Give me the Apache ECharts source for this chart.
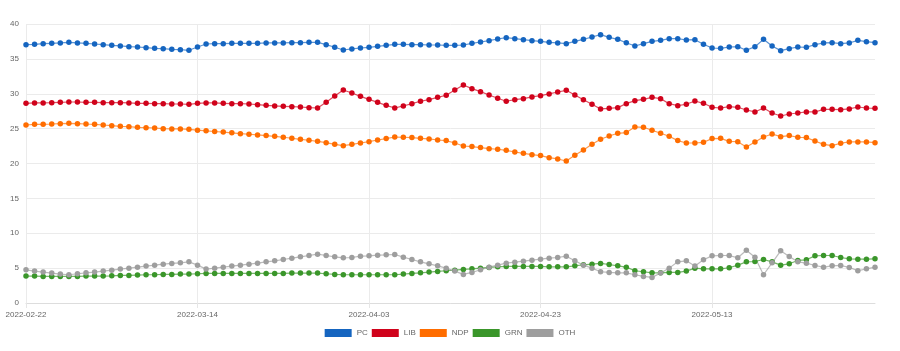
<!DOCTYPE html>
<html>
<head>
<meta charset="utf-8">
<script src="https://cdn.jsdelivr.net/npm/echarts@6/dist/echarts.min.js"></script>
<style>
  html, body { margin: 0; padding: 0; background: #fff; }
  #chart { width: 900px; height: 351px; }
</style>
</head>
<body>
<div id="chart"></div>
<script>
// daily polling averages, 2022-02-22 .. 2022-06-01
const startDate = '2022-02-22'
const dayCount = 100

const pc = [37.04, 37.09, 37.18, 37.23, 37.28, 37.37, 37.28, 37.23, 37.13, 37.04,
  36.94, 36.85, 36.75, 36.70, 36.61, 36.51, 36.46, 36.37, 36.32, 36.23,
  36.70, 37.13, 37.18, 37.18, 37.23, 37.23, 37.23, 37.23, 37.28, 37.28,
  37.28, 37.32, 37.32, 37.37, 37.37, 37.04, 36.66, 36.27, 36.42, 36.56,
  36.66, 36.80, 36.94, 37.09, 37.09, 37.04, 37.04, 36.99, 36.99, 36.94,
  36.94, 36.99, 37.23, 37.42, 37.61, 37.85, 38.04, 37.90, 37.75, 37.61,
  37.52, 37.37, 37.28, 37.18, 37.52, 37.80, 38.14, 38.47, 38.09, 37.80,
  37.32, 36.85, 37.18, 37.52, 37.66, 37.90, 37.90, 37.71, 37.75, 37.09,
  36.56, 36.51, 36.70, 36.75, 36.23, 36.75, 37.80, 36.85, 36.18, 36.46,
  36.70, 36.66, 37.04, 37.28, 37.32, 37.18, 37.28, 37.66, 37.47, 37.32]

const lib = [28.63, 28.68, 28.68, 28.72, 28.77, 28.82, 28.82, 28.77, 28.77, 28.72,
  28.72, 28.72, 28.68, 28.63, 28.63, 28.58, 28.58, 28.53, 28.53, 28.49,
  28.63, 28.68, 28.68, 28.63, 28.58, 28.58, 28.53, 28.44, 28.34, 28.25,
  28.20, 28.15, 28.10, 28.01, 27.96, 28.77, 29.68, 30.54, 30.11, 29.63,
  29.20, 28.77, 28.34, 27.96, 28.25, 28.58, 28.92, 29.15, 29.49, 29.78,
  30.54, 31.26, 30.73, 30.30, 29.82, 29.35, 28.92, 29.15, 29.30, 29.54,
  29.73, 29.97, 30.25, 30.49, 29.82, 29.15, 28.49, 27.82, 27.91, 28.01,
  28.58, 29.01, 29.20, 29.49, 29.30, 28.58, 28.29, 28.49, 28.96, 28.63,
  28.06, 27.96, 28.15, 28.06, 27.67, 27.39, 27.96, 27.24, 26.81, 27.10,
  27.24, 27.39, 27.39, 27.77, 27.77, 27.72, 27.82, 28.10, 27.96, 27.91]

const ndp = [25.52, 25.62, 25.62, 25.66, 25.71, 25.76, 25.71, 25.66, 25.62, 25.52,
  25.43, 25.33, 25.28, 25.19, 25.14, 25.09, 25.00, 24.95, 24.95, 24.90,
  24.78, 24.69, 24.59, 24.50, 24.40, 24.28, 24.19, 24.10, 24.00, 23.90,
  23.76, 23.62, 23.47, 23.33, 23.18, 22.99, 22.75, 22.56, 22.75, 22.94,
  23.13, 23.37, 23.57, 23.80, 23.76, 23.71, 23.61, 23.52, 23.37, 23.28,
  22.94, 22.51, 22.42, 22.28, 22.13, 22.04, 21.89, 21.65, 21.46, 21.27,
  21.13, 20.84, 20.65, 20.36, 21.18, 21.94, 22.75, 23.47, 23.95, 24.33,
  24.43, 25.24, 25.19, 24.76, 24.33, 23.90, 23.28, 22.94, 22.94, 23.04,
  23.57, 23.61, 23.18, 23.13, 22.37, 23.09, 23.80, 24.23, 23.85, 24.00,
  23.76, 23.71, 23.23, 22.75, 22.56, 22.90, 23.09, 23.09, 23.09, 22.99]

const grn = [3.86, 3.86, 3.81, 3.81, 3.81, 3.81, 3.81, 3.86, 3.86, 3.86,
  3.90, 3.95, 3.95, 4.00, 4.05, 4.05, 4.10, 4.10, 4.14, 4.14,
  4.19, 4.24, 4.24, 4.24, 4.24, 4.24, 4.24, 4.24, 4.24, 4.24,
  4.24, 4.29, 4.29, 4.29, 4.29, 4.19, 4.10, 4.05, 4.05, 4.05,
  4.05, 4.05, 4.05, 4.05, 4.14, 4.24, 4.33, 4.43, 4.52, 4.62,
  4.71, 4.81, 4.90, 5.00, 5.10, 5.19, 5.24, 5.24, 5.24, 5.24,
  5.24, 5.19, 5.19, 5.19, 5.33, 5.48, 5.57, 5.67, 5.52, 5.33,
  5.14, 4.62, 4.48, 4.33, 4.33, 4.38, 4.38, 4.57, 5.00, 4.90,
  4.90, 4.90, 5.05, 5.43, 5.90, 5.95, 6.24, 5.90, 5.43, 5.62,
  6.10, 6.19, 6.76, 6.81, 6.81, 6.52, 6.33, 6.29, 6.29, 6.33]

const oth = [4.76, 4.57, 4.43, 4.29, 4.14, 4.05, 4.19, 4.33, 4.43, 4.57,
  4.71, 4.86, 5.00, 5.14, 5.29, 5.43, 5.57, 5.67, 5.76, 5.90,
  5.43, 4.86, 5.00, 5.14, 5.29, 5.43, 5.57, 5.71, 5.90, 6.05,
  6.24, 6.43, 6.62, 6.81, 7.00, 6.81, 6.62, 6.48, 6.52, 6.71,
  6.76, 6.86, 6.90, 6.95, 6.57, 6.24, 5.90, 5.62, 5.33, 5.00,
  4.57, 4.10, 4.38, 4.76, 5.14, 5.43, 5.71, 5.86, 6.00, 6.14,
  6.29, 6.43, 6.52, 6.71, 6.05, 5.43, 5.00, 4.48, 4.38, 4.33,
  4.33, 4.05, 3.81, 3.67, 4.29, 5.00, 5.90, 6.05, 5.29, 6.19,
  6.76, 6.81, 6.81, 6.48, 7.57, 6.57, 4.05, 5.76, 7.48, 6.67,
  5.90, 5.71, 5.38, 5.14, 5.33, 5.38, 5.10, 4.62, 4.90, 5.14]

const partyNames = ['PC', 'LIB', 'NDP', 'GRN', 'OTH']
const partyColors = ['#1565c0', '#d0021b', '#ff6d00', '#3a962a', '#9e9e9e']

// x axis category labels (one per day)
const dates = []
const t0 = Date.parse(startDate + 'T00:00:00Z')
for (let i = 0; i < dayCount; i++) {
  dates.push(new Date(t0 + i * 86400000).toISOString().slice(0, 10))
}

const seriesData = [pc, lib, ndp, grn, oth]
const font = 'Liberation Sans, Arial, sans-serif'

const chart = echarts.init(document.getElementById('chart'))
chart.setOption({
  animation: false,
  color: partyColors,
  textStyle: { fontFamily: font },
  grid: { left: 26, right: 25, top: 24, bottom: 48 },
  legend: {
    top: 324,
    left: 'center',
    icon: 'rect',
    itemWidth: 27,
    itemHeight: 8,
    itemGap: 4,
    textStyle: { color: '#666', fontSize: 8, fontFamily: font },
    data: partyNames
  },
  xAxis: {
    type: 'category',
    boundaryGap: false,
    data: dates,
    axisLine: { lineStyle: { color: '#ddd' } },
    axisTick: { interval: 19, length: 5, lineStyle: { color: '#e6e6e6' } },
    axisLabel: { interval: 19, color: '#666', fontSize: 8, margin: 8 },
    splitLine: { show: true, interval: 19, lineStyle: { color: '#ebebeb' } }
  },
  yAxis: {
    type: 'value',
    min: 0,
    max: 40,
    interval: 5,
    axisLine: { show: false },
    axisTick: { show: false },
    axisLabel: { color: '#666', fontSize: 8, margin: 7 },
    splitLine: { lineStyle: { color: '#ebebeb' } }
  },
  series: partyNames.map((name, k) => ({
    name: name,
    type: 'line',
    data: seriesData[k],
    symbol: 'circle',
    symbolSize: 5.5,
    showSymbol: true,
    showAllSymbol: true,
    lineStyle: { width: 1.2, opacity: 0.7 },
    itemStyle: { color: partyColors[k] }
  }))
})
</script>
</body>
</html>
